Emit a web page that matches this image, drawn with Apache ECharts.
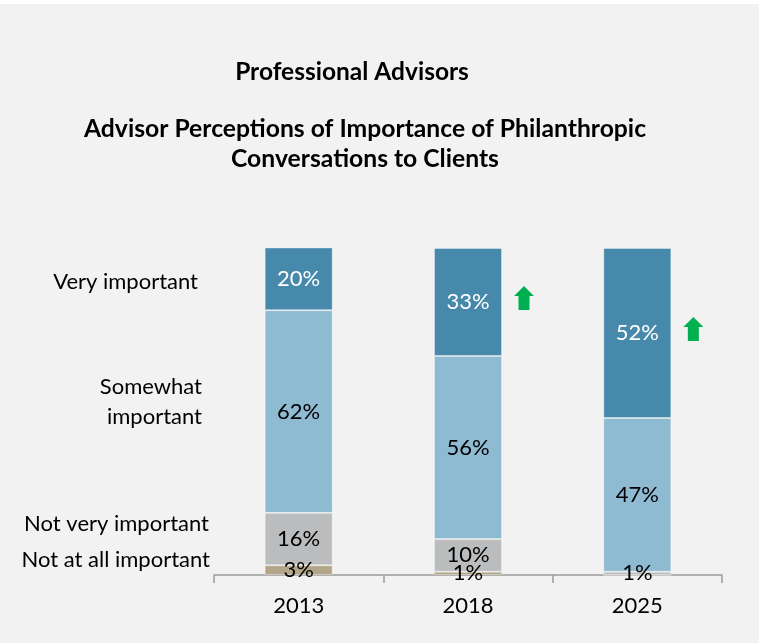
<!DOCTYPE html>
<html>
<head>
<meta charset="utf-8">
<script src="https://cdn.jsdelivr.net/npm/echarts@6/dist/echarts.min.js"></script>
<style>
  html, body { margin: 0; padding: 0; background: #ffffff; }
  #chart { width: 759px; height: 643px; }
</style>
</head>
<body>
<div id="chart"></div>
<script>
// Survey years and the share of advisors in each answer group (%)
const years = ['2013', '2018', '2025'];
const notAtAllImportant = [3, 1, 0];
const notVeryImportant = [16, 10, 1];
const somewhatImportant = [62, 56, 47];
const veryImportant = [20, 33, 52];
// Years flagged with an upward arrow beside the "Very important" share
const risingYears = ['2018', '2025'];
const rowLabels = ['Very important', 'Somewhat\nimportant', 'Not very important', 'Not at all important'];

const FONT = 'Lato';
const LABEL_SIZE = 22;
const COLORS = {
  very: '#4689ab',
  somewhat: '#8ebad2',
  notVery: '#bbbcbe',
  notAtAll: '#b3a587'
};

const chart = echarts.init(document.getElementById('chart'), null, { renderer: 'canvas' });

function pct(p) { return p.value > 0 ? p.value + '%' : ''; }

function makeSeries(name, data, color, textColor) {
  return {
    name: name,
    type: 'bar',
    stack: 'total',
    data: data,
    barWidth: 68,
    clip: true,
    itemStyle: { color: color, borderColor: 'rgba(255,255,255,0.35)', borderWidth: 1 },
    label: {
      show: true,
      position: 'inside',
      formatter: pct,
      color: textColor,
      fontFamily: FONT,
      fontSize: LABEL_SIZE
    },
    emphasis: { disabled: true }
  };
}

chart.setOption({
  backgroundColor: '#f1f2f1',
  animation: false,
  title: [
    {
      text: 'Professional Advisors',
      left: 347, top: 52, textAlign: 'center',
      textStyle: { fontFamily: FONT, fontSize: 24.5, fontWeight: 'bold', color: '#000', lineHeight: 30 }
    },
    {
      text: 'Advisor Perceptions of Importance of Philanthropic\nConversations to Clients',
      left: 360, top: 109, textAlign: 'center',
      textStyle: { fontFamily: FONT, fontSize: 24.7, fontWeight: 'bold', color: '#000', lineHeight: 30 }
    }
  ],
  grid: { left: 214, right: 37, top: 248, bottom: 68 },
  xAxis: {
    type: 'category',
    data: years,
    axisLine: { lineStyle: { color: '#9a9a9a', width: 1.5 } },
    axisTick: { show: true, length: 8, lineStyle: { color: '#9a9a9a', width: 1.5 } },
    axisLabel: { fontFamily: FONT, fontSize: LABEL_SIZE, color: '#000', margin: 20, lineHeight: 22 }
  },
  yAxis: {
    type: 'value',
    min: 0, max: 100,
    show: false
  },
  series: [
    makeSeries('Not at all important', notAtAllImportant, COLORS.notAtAll, '#000'),
    makeSeries('Not very important', notVeryImportant, COLORS.notVery, '#000'),
    makeSeries('Somewhat important', somewhatImportant, COLORS.somewhat, '#000'),
    makeSeries('Very important', veryImportant, COLORS.very, '#fff')
  ]
});

// Row captions on the left, and green arrows beside rising "Very important" shares
function drawExtras() {
  const captionPos = [
    { x: 198, y: 282 },
    { x: 202, y: 402 },
    { x: 209, y: 524 },
    { x: 210, y: 560 }
  ];
  const elements = [
    { type: 'rect', left: 0, top: 0, shape: { width: 759, height: 4 }, style: { fill: '#ffffff' }, silent: true }
  ];
  rowLabels.forEach(function (txt, i) {
    elements.push({
      type: 'text',
      x: captionPos[i].x,
      y: captionPos[i].y,
      style: {
        text: txt,
        fill: '#000',
        font: LABEL_SIZE + 'px ' + FONT,
        align: 'right',
        verticalAlign: 'middle',
        lineHeight: 30
      },
      silent: true
    });
  });
  risingYears.forEach(function (yr) {
    const i = years.indexOf(yr);
    const below = notAtAllImportant[i] + notVeryImportant[i] + somewhatImportant[i];
    const mid = below + veryImportant[i] / 2;
    const p = chart.convertToPixel({ xAxisIndex: 0, yAxisIndex: 0 }, [yr, mid]);
    const cx = p[0] + 56;
    const cy = p[1] - 4;
    elements.push({
      type: 'polygon',
      shape: {
        points: [
          [cx, cy - 12], [cx + 10, cy - 2], [cx + 5.5, cy - 2], [cx + 5.5, cy + 12],
          [cx - 5.5, cy + 12], [cx - 5.5, cy - 2], [cx - 10, cy - 2]
        ]
      },
      style: { fill: '#00b050' },
      silent: true
    });
  });
  chart.setOption({ graphic: elements });
}
drawExtras();
</script>
</body>
</html>
